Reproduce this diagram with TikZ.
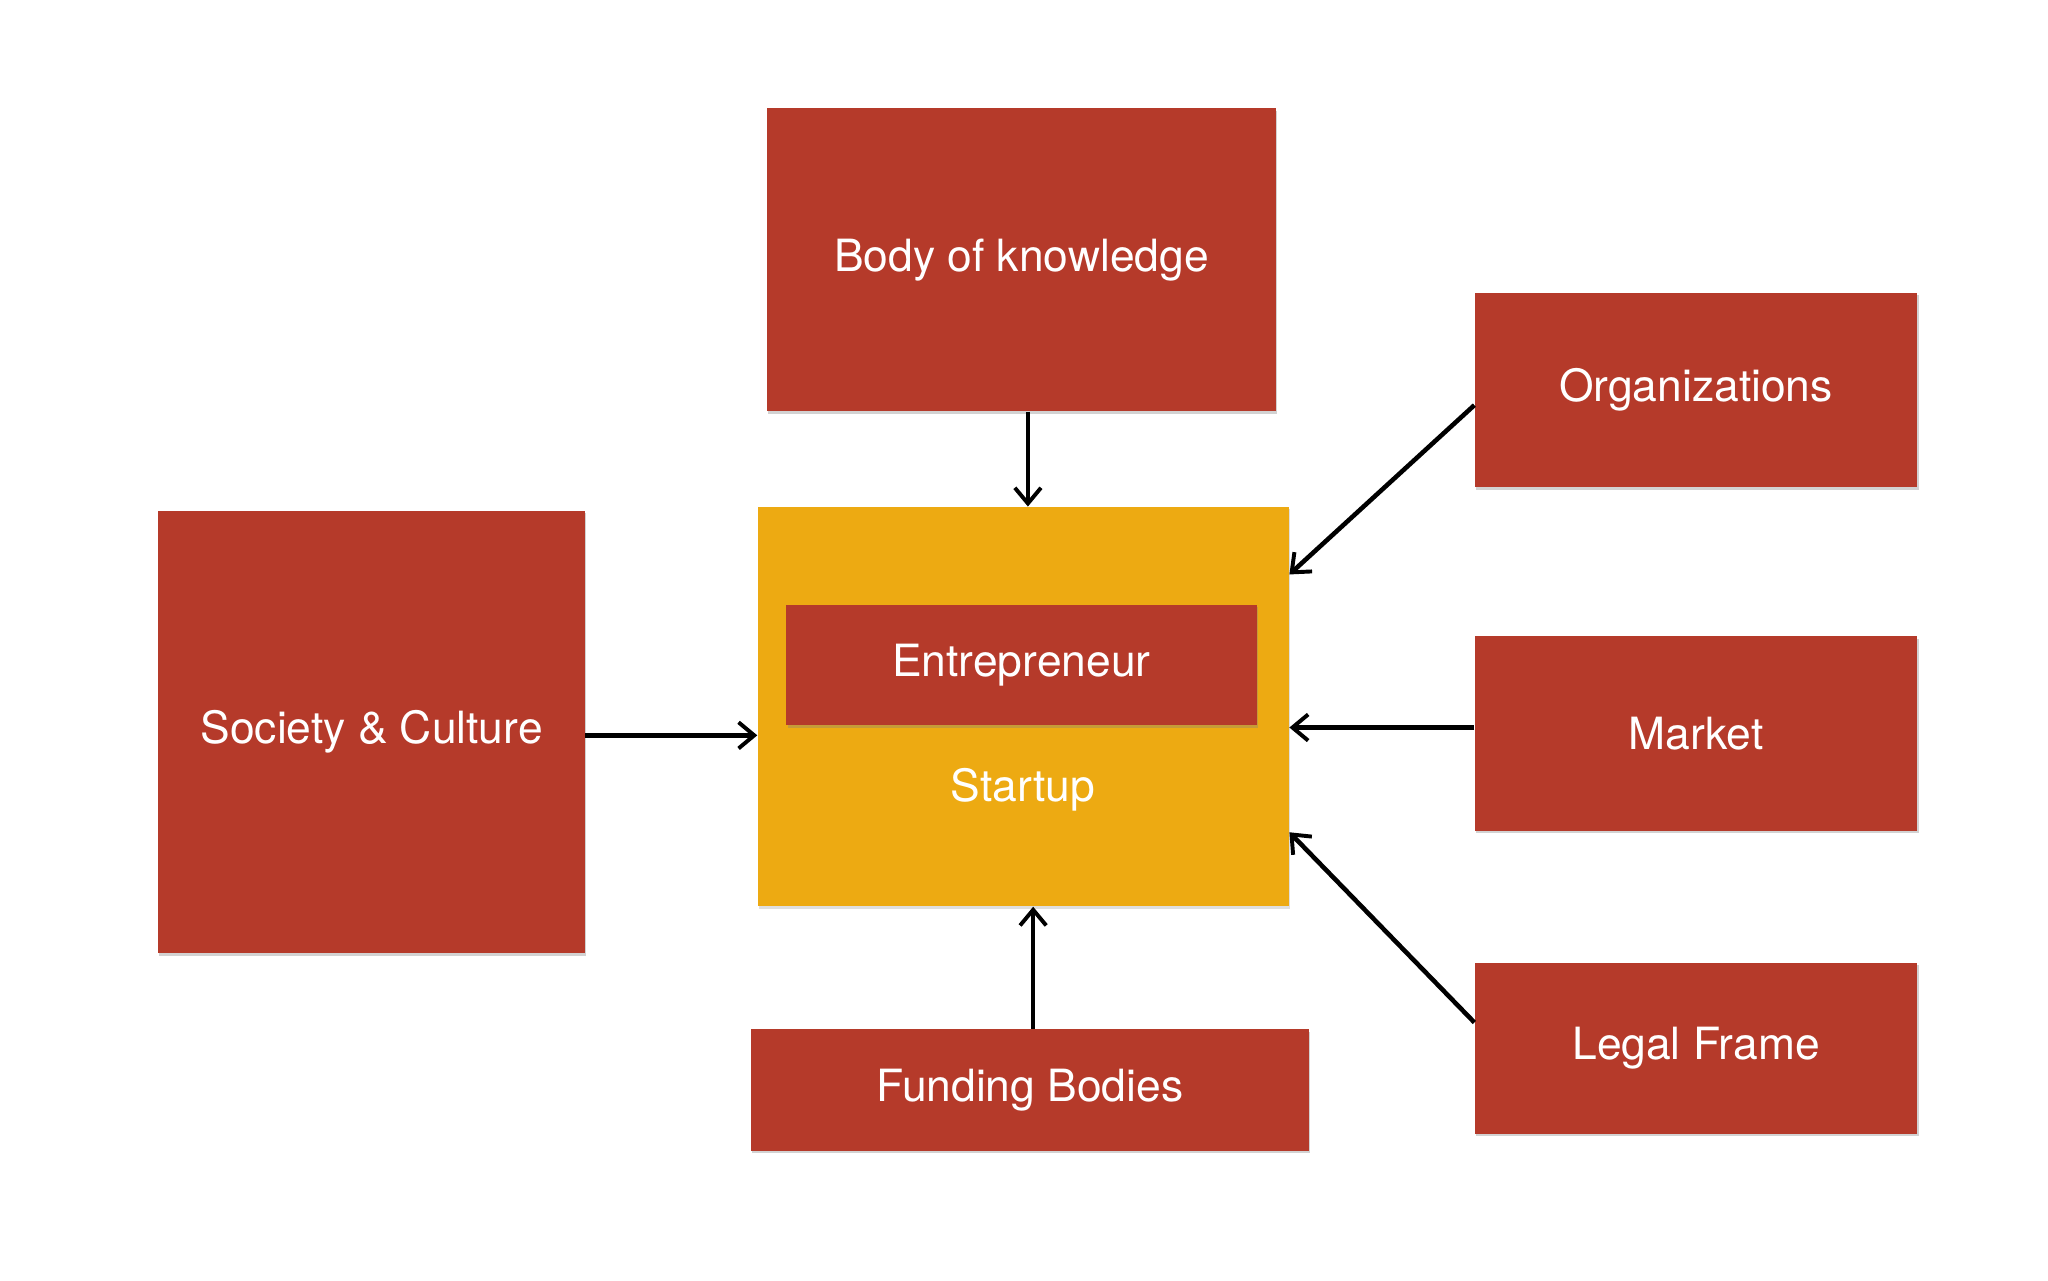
\documentclass[tikz,border=0pt]{standalone}
\usepackage{fontspec}
\setmainfont{TeX Gyre Heros}
\usetikzlibrary{arrows.meta,calc,shadows}
\definecolor{boxred}{HTML}{B53A2A}
\definecolor{boxyellow}{HTML}{EDAA12}
\tikzset{
  redbox/.style={fill=boxred, text=white, inner sep=0pt, font=\fontsize{34}{40}\selectfont,
    drop shadow={opacity=0.35, shadow xshift=1pt, shadow yshift=-2pt}},
  yelbox/.style={fill=boxyellow, inner sep=0pt,
    drop shadow={opacity=0.25, shadow xshift=1pt, shadow yshift=-2pt}},
  conn/.style={line width=3.5pt, -{Straight Barb[length=12pt,width=20pt,line width=3pt]}}
}
\begin{document}
\begin{tikzpicture}[x=1pt,y=1pt]
\useasboundingbox[fill=white] (0,0) rectangle (1568,-980);
\node[redbox, minimum width=390pt, minimum height=232pt] (body) at (782,-199) {Body of knowledge};
\node[redbox, minimum width=339pt, minimum height=149pt] (org) at (1298.5,-298.5) {Organizations};
\node[redbox, minimum width=327pt, minimum height=339pt] (soc) at (284.5,-560.5) {Society \& Culture};
\node[yelbox, minimum width=407pt, minimum height=306pt] (startup) at (783.5,-541) {};
\node[redbox, minimum width=360pt, minimum height=92pt] (ent) at (782,-509) {Entrepreneur};
\node[text=white, font=\fontsize{34}{40}\selectfont] (stxt) at (783,-605) {Startup};
\node[redbox, minimum width=339pt, minimum height=149pt] (mkt) at (1298.5,-561.5) {Market};
\node[redbox, minimum width=339pt, minimum height=131pt] (legal) at (1298.5,-802.5) {Legal Frame};
\node[redbox, minimum width=427pt, minimum height=93pt] (fund) at (788.5,-834.5) {Funding Bodies};
\draw[conn] (body.south -| 787,0) -- (startup.north -| 787,0);
\draw[conn] ($(org.south west)+(0,63)$) -- ($(startup.north east)+(0,-52)$);
\draw[conn] (soc.east |- 0,-563) -- (startup.west |- 0,-563);
\draw[conn] (mkt.west |- 0,-557) -- (startup.east |- 0,-557);
\draw[conn] ($(legal.north west)+(0,-46)$) -- ($(startup.south east)+(0,57)$);
\draw[conn] (fund.north -| 791,0) -- (startup.south -| 791,0);
\end{tikzpicture}
\end{document}
